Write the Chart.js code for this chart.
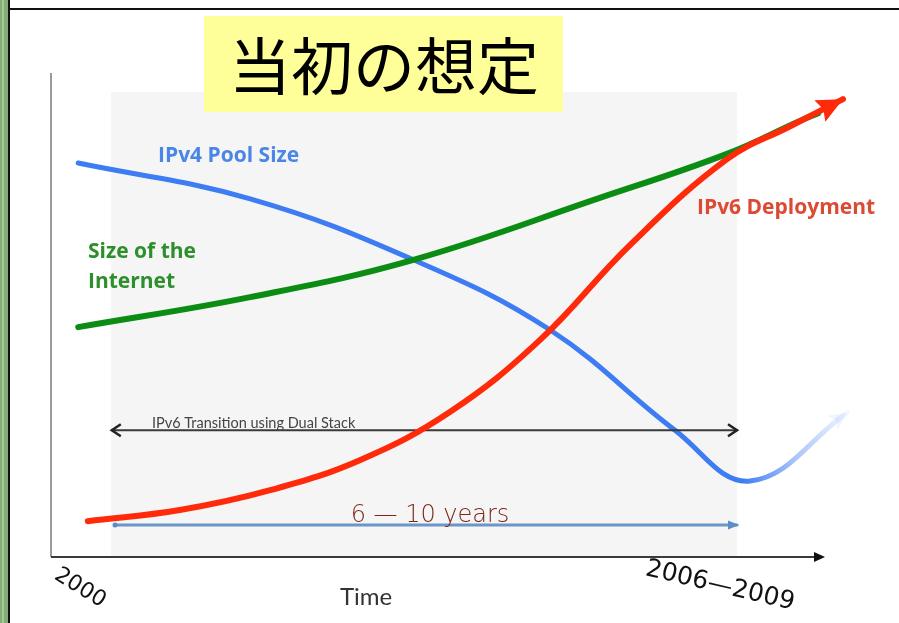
<!DOCTYPE html>
<html>
<head>
<meta charset="utf-8">
<script src="https://cdn.jsdelivr.net/npm/chart.js@4.4.1/dist/chart.umd.min.js"></script>
<style>
  html, body { margin: 0; padding: 0; background: #fff; }
  #wrap { width: 899px; height: 623px; position: relative; }
</style>
</head>
<body>
<div id="wrap"><canvas id="chart" width="899" height="623"></canvas></div>
<script>
// --- data (time 0..100, level 0..100) ---
const ipv4Time = [3.4, 24.9, 45.3, 62.4, 78.0, 87.4, 99.5];
const ipv4Pool = [81.4, 74.0, 61.4, 46.9, 26.2, 15.7, 29.8];

const netTime = [3.4, 24.9, 45.3, 68.6, 84.5, 93.6, 95.9];
const netSize = [47.5, 53.7, 61.4, 74.2, 83.3, 90.1, 91.7];

const v6Time = [4.6, 16.1, 27.4, 38.6, 49.9, 61.1, 72.4, 84.5, 92.4, 99.0];
const v6Deploy = [7.4, 9.7, 13.8, 20.0, 30.0, 44.8, 64.5, 82.2, 89.0, 94.6];

// dual stack span and the "6 - 10 years" span
const transitionTime = [7.6, 85.75];
const transitionLevel = [26.2, 26.2];
const yearsTime = [8.0, 85.75];
const yearsLevel = [6.6, 6.6];

// shaded period and axis ends
const shadeTime = [7.5, 85.75];
const shadeTop = 96.1;
const xAxisEnd = 96.75;

const toPoints = (xs, ys) => xs.map((x, i) => ({ x: x, y: ys[i] }));

const BLUE = '#3d7cf2';
const GREEN = '#0b8c12';
const RED = '#ff2a0a';

function pix(chart, x, y) {
    return [chart.scales.x.getPixelForValue(x), chart.scales.y.getPixelForValue(y)];
}

function arrowHead(ctx, tip, from, len, half, notch, color) {
    const a = Math.atan2(tip[1] - from[1], tip[0] - from[0]);
    ctx.save();
    ctx.translate(tip[0], tip[1]);
    ctx.rotate(a);
    ctx.fillStyle = color;
    ctx.beginPath();
    ctx.moveTo(0, 0);
    ctx.lineTo(-len, -half);
    ctx.lineTo(-len * notch, 0);
    ctx.lineTo(-len, half);
    ctx.closePath();
    ctx.fill();
    ctx.restore();
}

function chevron(ctx, x, y, dir, color) {
    ctx.save();
    ctx.strokeStyle = color;
    ctx.lineWidth = 2.5;
    ctx.beginPath();
    ctx.moveTo(x - dir * 9, y - 6);
    ctx.lineTo(x, y);
    ctx.lineTo(x - dir * 9, y + 6);
    ctx.stroke();
    ctx.restore();
}

const slideDecor = {
    id: 'slideDecor',
    beforeDatasetsDraw(chart) {
        const ctx = chart.ctx;
        const area = chart.chartArea;
        ctx.save();
        // slide frame
        ctx.fillStyle = '#84ad74';
        ctx.fillRect(0, 0, 8, 623);
        ctx.fillStyle = '#a6c99a';
        ctx.fillRect(2, 0, 2, 623);
        ctx.fillStyle = '#111';
        ctx.fillRect(8, 0, 2, 623);
        ctx.fillRect(8, 8, 891, 2);

        // shaded period
        const [sx0, sy0] = pix(chart, shadeTime[0], shadeTop);
        const [sx1, sy1] = pix(chart, shadeTime[1], 0);
        ctx.fillStyle = '#f5f5f5';
        ctx.fillRect(sx0, sy0, sx1 - sx0, sy1 - sy0);

        // title box
        ctx.fillStyle = '#ffff99';
        ctx.fillRect(204, 16, 359, 96);
        ctx.fillStyle = '#000';
        ctx.font = '62px "Noto Sans CJK JP"';
        ctx.textAlign = 'center';
        ctx.textBaseline = 'middle';
        ctx.fillText('当初の想定', 384, 66);

        // axes
        const bottom = chart.scales.y.getPixelForValue(0);
        const left = area.left;
        ctx.strokeStyle = '#9a9a9a';
        ctx.lineWidth = 2;
        ctx.beginPath();
        ctx.moveTo(left, area.top);
        ctx.lineTo(left, bottom);
        ctx.stroke();
        const xEnd = chart.scales.x.getPixelForValue(xAxisEnd);
        ctx.strokeStyle = '#3a3a3a';
        ctx.beginPath();
        ctx.moveTo(left, bottom);
        ctx.lineTo(xEnd - 8, bottom);
        ctx.stroke();
        ctx.fillStyle = '#111';
        ctx.beginPath();
        ctx.moveTo(xEnd, bottom);
        ctx.lineTo(xEnd - 11, bottom - 5);
        ctx.lineTo(xEnd - 11, bottom + 5);
        ctx.closePath();
        ctx.fill();
        ctx.restore();
    },
    afterDatasetsDraw(chart) {
        const ctx = chart.ctx;
        ctx.save();
        // red arrow head
        const red = chart.getDatasetMeta(0).data;
        const rLast = red[red.length - 1];
        arrowHead(ctx, [rLast.x, rLast.y], [rLast.cp1x, rLast.cp1y], 26, 12, 0.85, RED);

        // faint blue arrow head
        const blue = chart.getDatasetMeta(3).data;
        const bLast = blue[blue.length - 1];
        arrowHead(ctx, [bLast.x, bLast.y], [bLast.cp1x, bLast.cp1y], 18, 9, 0.75, 'rgba(61,124,242,0.08)');

        // dual stack chevrons
        const [tx0, ty] = pix(chart, transitionTime[0], transitionLevel[0]);
        const [tx1] = pix(chart, transitionTime[1], transitionLevel[1]);
        chevron(ctx, tx0, ty, -1, '#222');
        chevron(ctx, tx1, ty, 1, '#222');

        // years arrow ends
        const [yx0, yy] = pix(chart, yearsTime[0], yearsLevel[0]);
        const [yx1] = pix(chart, yearsTime[1], yearsLevel[1]);
        ctx.fillStyle = '#5b8cc4';
        ctx.beginPath();
        ctx.arc(yx0, yy, 2.5, 0, Math.PI * 2);
        ctx.fill();
        ctx.beginPath();
        ctx.moveTo(yx1 + 2, yy);
        ctx.lineTo(yx1 - 9, yy - 4.5);
        ctx.lineTo(yx1 - 9, yy + 4.5);
        ctx.closePath();
        ctx.fill();

        // labels
        ctx.textAlign = 'left';
        ctx.textBaseline = 'middle';
        ctx.font = 'bold 21px "Open Sans"';
        ctx.fillStyle = '#4a86e6';
        ctx.fillText('IPv4 Pool Size', 158, 156);
        ctx.fillStyle = '#2c8f2c';
        ctx.fillText('Size of the', 88, 252);
        ctx.fillText('Internet', 88, 282);
        ctx.fillStyle = '#dc4a34';
        ctx.fillText('IPv6 Deployment', 697, 208);

        ctx.font = '14.5px Lato';
        ctx.fillStyle = '#444';
        ctx.fillText('IPv6 Transition using Dual Stack', 152, 423);

        ctx.font = '24px Lato';
        ctx.fillStyle = '#333';
        ctx.fillText('Time', 340, 597);

        ctx.font = '300 24px "DejaVu Sans"';
        ctx.fillStyle = '#7e2418';
        ctx.textAlign = 'center';
        ctx.fillText('6 — 10 years', 430, 516);

        ctx.fillStyle = '#111';
        ctx.font = '22px "DejaVu Sans"';
        ctx.save();
        ctx.translate(80, 588);
        ctx.rotate(0.55);
        ctx.fillText('2000', 0, 0);
        ctx.restore();
        ctx.font = '25px "DejaVu Sans"';
        ctx.save();
        ctx.translate(720, 586);
        ctx.rotate(0.23);
        ctx.fillText('2006—2009', 0, 0);
        ctx.restore();
        ctx.restore();
    }
};

const blueFade = (context) => {
    const chart = context.chart;
    if (!chart.chartArea) return BLUE;
    const low = ipv4Pool.indexOf(Math.min(...ipv4Pool));
    const x0 = chart.scales.x.getPixelForValue(ipv4Time[low] - 1);
    const x1 = chart.scales.x.getPixelForValue(ipv4Time[ipv4Time.length - 1]);
    const g = chart.ctx.createLinearGradient(x0, 0, x1, 0);
    g.addColorStop(0, BLUE);
    g.addColorStop(0.5, 'rgba(61,124,242,0.45)');
    g.addColorStop(1, 'rgba(61,124,242,0.06)');
    return g;
};

new Chart(document.getElementById('chart'), {
    type: 'line',
    data: {
        datasets: [
            { label: 'IPv6 Deployment', data: toPoints(v6Time, v6Deploy), borderColor: RED, borderWidth: 6, order: 0 },
            { label: 'Size of the Internet', data: toPoints(netTime, netSize), borderColor: GREEN, borderWidth: 6, order: 1 },
            { label: 'IPv6 Transition using Dual Stack', data: toPoints(transitionTime, transitionLevel), borderColor: '#3a3a3a', borderWidth: 2, order: 2, tension: 0 },
            { label: 'IPv4 Pool Size', data: toPoints(ipv4Time, ipv4Pool), borderColor: blueFade, borderWidth: 5, order: 3 },
            { label: '6 - 10 years', data: toPoints(yearsTime, yearsLevel), borderColor: '#6a96c8', borderWidth: 3, order: 4, tension: 0 }
        ]
    },
    options: {
        responsive: false,
        animation: false,
        parsing: false,
        layout: { padding: { left: 51, right: 48, top: 73, bottom: 66 } },
        elements: { point: { radius: 0 }, line: { borderCapStyle: 'round', fill: false, tension: 0.4 } },
        scales: {
            x: { type: 'linear', min: 0, max: 100, display: false },
            y: { type: 'linear', min: 0, max: 100, display: false }
        },
        plugins: { legend: { display: false }, tooltip: { enabled: false } }
    },
    plugins: [slideDecor]
});
</script>
</body>
</html>
